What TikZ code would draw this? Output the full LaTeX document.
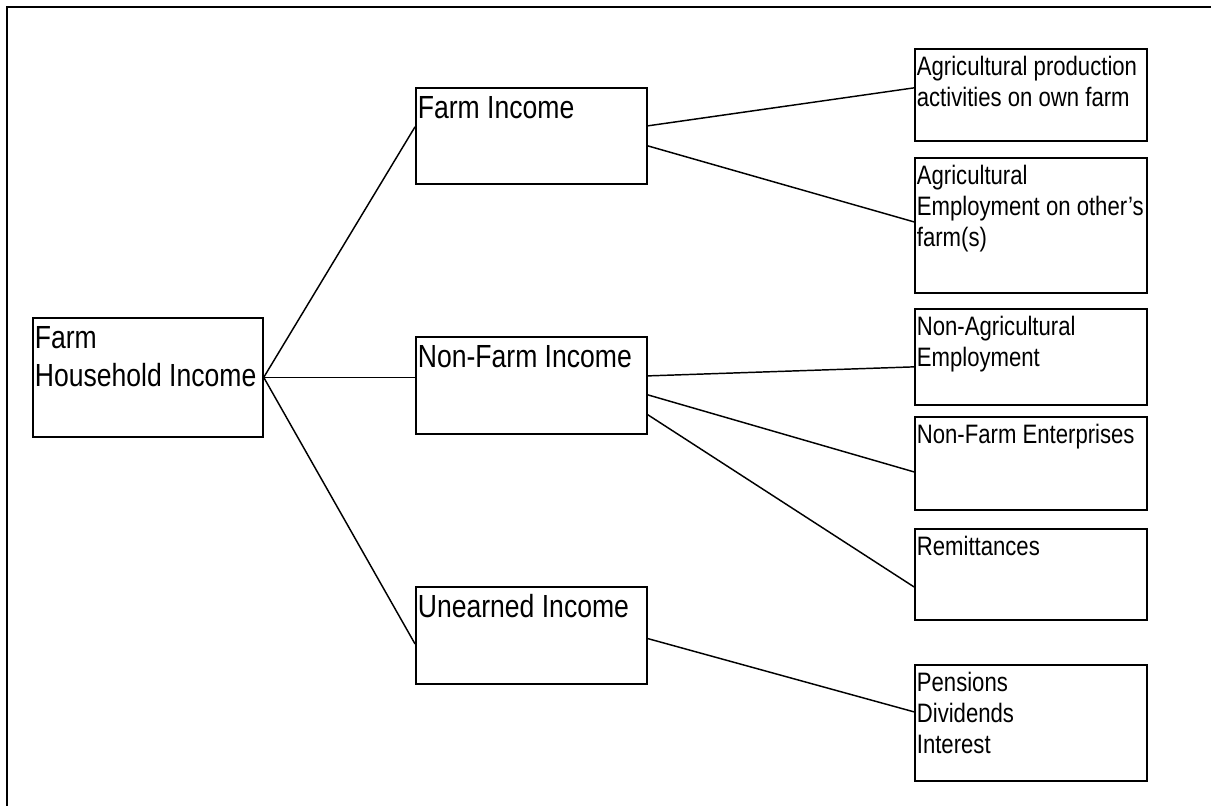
\documentclass[tikz,border=0pt]{standalone}
\usepackage{fontspec}
\setmainfont{Liberation Sans}[FakeStretch=0.83]

\newcommand{\bigfont}{\fontsize{24}{28.5}\selectfont\def\firstline{23.25pt}}
\newcommand{\smallfont}{\fontsize{20}{23.25}\selectfont\def\firstline{20.25pt}}
\newcommand{\cell}[3]{\parbox[t][#2][t]{#1}{\rule{0pt}{\firstline}#3}}

\begin{document}
\begin{tikzpicture}[x=0.75pt, y=-0.75pt,
    box/.style={draw, line width=1.3pt, anchor=north west, inner xsep=1.5pt, inner ysep=0pt},
    bigbox/.style={box, font=\bigfont},
    smallbox/.style={box, font=\smallfont},
    edge/.style={line width=1.1pt}]
    \useasboundingbox (0,0) rectangle (1211,806);

    % Frame
    \draw[line width=1.8pt] (1211,7) -- (7,7) -- (7,806);

    % Draw nodes
    \node[bigbox] (root) at (32,317) {\cell{169.5pt}{89.25pt}{Farm\\Household Income}};
    \node[bigbox] (farm) at (415,87) {\cell{170.25pt}{72pt}{Farm Income}};
    \node[bigbox] (nonfarm) at (415,336) {\cell{170.25pt}{72.75pt}{Non-Farm Income}};
    \node[bigbox] (unearned) at (415,586) {\cell{170.25pt}{72.75pt}{Unearned Income}};

    \node[smallbox] (agriprod) at (914,48) {\cell{171pt}{69pt}{Agricultural production\\activities on own farm}};
    \node[smallbox] (agriemp) at (914,157) {\cell{171pt}{101.25pt}{Agricultural\\Employment on other’s\\farm(s)}};
    \node[smallbox] (nonagri) at (914,308) {\cell{171pt}{72pt}{Non-Agricultural\\Employment}};
    \node[smallbox] (enterprises) at (914,416) {\cell{171pt}{69.75pt}{Non-Farm Enterprises}};
    \node[smallbox] (remit) at (914,528) {\cell{171pt}{68.25pt}{Remittances}};
    \node[smallbox] (pensions) at (914,664) {\cell{171pt}{87pt}{Pensions\\Dividends\\Interest}};

    % Draw edges
    \draw[edge] (root.east) -- ([yshift=6.75pt]farm.west);
    \draw[edge] (root.east) -- (root.east -| nonfarm.west);
    \draw[edge] (root.east) -- ([yshift=-6.4pt]unearned.west);

    \draw[edge] ([yshift=7.5pt]farm.east) -- ([yshift=5.25pt]agriprod.west);
    \draw[edge] ([yshift=-7.5pt]farm.east) -- ([yshift=2.6pt]agriemp.west);

    \draw[edge] ([yshift=7.1pt]nonfarm.east) -- ([yshift=-7.5pt]nonagri.west);
    \draw[edge] ([yshift=-7.1pt]nonfarm.east) -- ([yshift=-6.4pt]enterprises.west);
    \draw[edge] ([yshift=-22pt]nonfarm.east) -- ([yshift=-9.4pt]remit.west);

    \draw[edge] ([yshift=-2.4pt]unearned.east) -- ([yshift=8.25pt]pensions.west);
\end{tikzpicture}
\end{document}
